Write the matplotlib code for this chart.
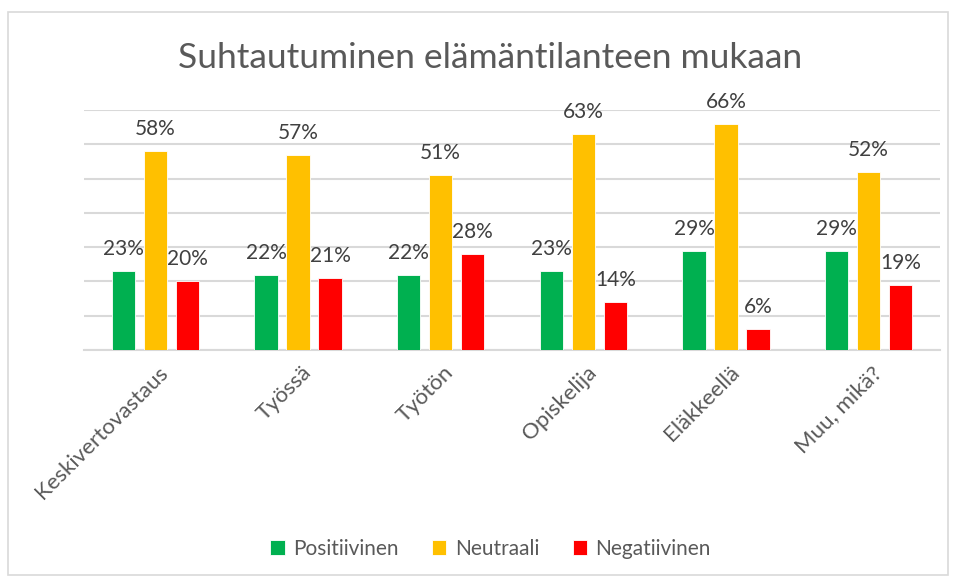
import numpy as np
import matplotlib.pyplot as plt
import matplotlib.patches as mpatches

# Data
categories = ['Keskivertovastaus', 'Työssä', 'Työtön', 'Opiskelija', 'Eläkkeellä', 'Muu, mikä?']
positiivinen = [23, 22, 22, 23, 29, 29]
neutraali = [58, 57, 51, 63, 66, 52]
negatiivinen = [20, 21, 28, 14, 6, 19]
series_names = ['Positiivinen', 'Neutraali', 'Negatiivinen']
colors = ['#00B050', '#FFC000', '#FF0000']

plt.rcParams['font.family'] = ['Lato', 'DejaVu Sans']

fig = plt.figure(figsize=(9.58, 5.79), dpi=100)
fig.patches.append(mpatches.Rectangle((8 / 958, 4 / 579), 940 / 958, 563 / 579,
                                      transform=fig.transFigure, fill=False,
                                      edgecolor='#d9d9d9', linewidth=1.2))

ax = fig.add_axes([84 / 958, (579 - 350) / 579, 856 / 958, 240 / 579])

x = np.arange(len(categories))
width = 0.165
step = 0.224
all_series = [positiivinen, neutraali, negatiivinen]
for i, (vals, name, col) in enumerate(zip(all_series, series_names, colors)):
    bars = ax.bar(x + (i - 1) * step, vals, width, color=col, label=name,
                  edgecolor='white', linewidth=0.6, zorder=3)
    for b, v in zip(bars, vals):
        ax.text(b.get_x() + b.get_width() / 2, v + 3.5, f'{v}%', ha='center', va='bottom',
                fontsize=15, color='#404040')

ax.set_xlim(-0.5, len(categories) - 0.5)
ax.set_ylim(0, 70)
ax.set_yticks(np.arange(0, 71, 10))
ax.yaxis.grid(True, color='#d9d9d9', linewidth=1.5, zorder=0)
ax.set_yticklabels([])
ax.tick_params(axis='y', length=0)
ax.tick_params(axis='x', length=0, pad=9)
for s in ['top', 'right', 'left']:
    ax.spines[s].set_visible(False)
ax.spines['bottom'].set_color('#d9d9d9')
ax.spines['bottom'].set_linewidth(1.5)

ax.set_xticks(x + 0.02)
ax.set_xticklabels(categories, rotation=45, ha='right', va='top',
                   rotation_mode='anchor', fontsize=16, color='#595959')

fig.text(0.512, 0.9, 'Suhtautuminen elämäntilanteen mukaan', ha='center', va='center',
         fontsize=25.5, color='#595959')

fig.legend(loc='center', bbox_to_anchor=(0.512, 0.052), ncol=3, frameon=False,
           fontsize=15, handlelength=0.7, handleheight=0.7, handletextpad=0.4,
           columnspacing=1.6, labelcolor='#595959')

fig.savefig('out.png', dpi=100)
